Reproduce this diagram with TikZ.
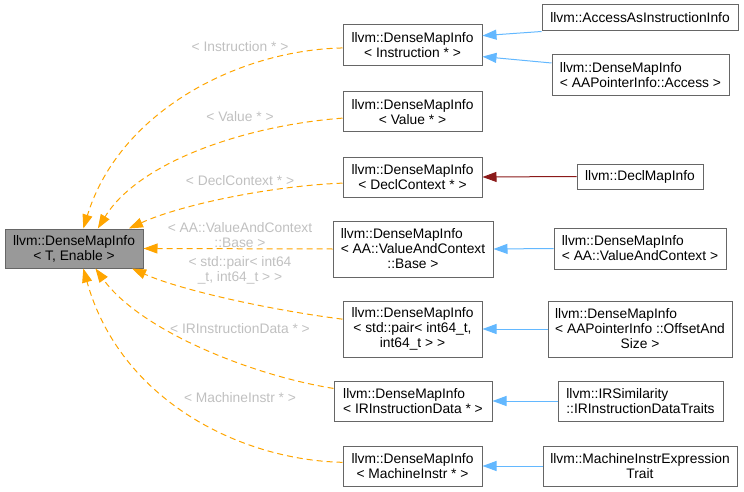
\documentclass[tikz,border=0pt]{standalone}
\usepackage{fontspec}
\setmainfont{Liberation Sans}
\usepackage{calc}
\usetikzlibrary{arrows.meta}
\definecolor{dxOrange}{HTML}{FFA500}
\definecolor{dxBlue}{HTML}{63B8FF}
\definecolor{dxRed}{HTML}{8B1A1A}
\definecolor{dxEdge}{HTML}{666666}
\definecolor{dxRoot}{HTML}{999999}
\definecolor{dxLabel}{HTML}{C0C0C0}
\newcommand{\lline}[2]{\makebox[\widthof{#2}][l]{#1}}
\tikzset{
  >={Triangle[length=14pt,width=10pt]},
  box/.style={draw=dxEdge, fill=white, line width=1pt, align=center,
              inner sep=2pt, font=\fontsize{13.8}{15}\selectfont},
  rootbox/.style={box, fill=dxRoot},
  lbl/.style={font=\fontsize{13.8}{15}\selectfont, text=dxLabel,
              align=center, inner sep=0pt},
  tmpl/.style={->, draw=dxOrange, line width=1pt, dash pattern=on 6pt off 4pt},
  pub/.style={->, draw=dxBlue, line width=1pt},
  priv/.style={->, draw=dxRed, line width=1pt},
}

\begin{document}
\begin{tikzpicture}[x=1pt,y=-1pt]
  \useasboundingbox (0,0) rectangle (744,492);
  % base template
  \node[rootbox,minimum width=138pt,minimum height=39pt] (root) at (74,248.5){llvm::DenseMapInfo\\< T, Enable >};

  % specialisations
  \node[box,minimum width=139pt,minimum height=41pt] (inst) at (412.5,45.5){llvm::DenseMapInfo\\< Instruction * >};
  \node[box,minimum width=139pt,minimum height=40pt] (val) at (412.5,112){llvm::DenseMapInfo\\< Value * >};
  \node[box,minimum width=139pt,minimum height=40pt] (decl) at (412.5,177){llvm::DenseMapInfo\\< DeclContext * >};
  \node[box,minimum width=160pt,minimum height=56pt] (base) at (413,249){\lline{llvm::DenseMapInfo}{< AA::ValueAndContext}\\< AA::ValueAndContext\\::Base >};
  \node[box,minimum width=139pt,minimum height=56pt] (pair) at (412.5,329){llvm::DenseMapInfo\\< std::pair< int64\_t,\\int64\_t > >};
  \node[box,minimum width=158pt,minimum height=40pt] (irid) at (413,401){\lline{llvm::DenseMapInfo}{< IRInstructionData * >}\\< IRInstructionData * >};
  \node[box,minimum width=139pt,minimum height=40pt] (mi) at (412.5,466){llvm::DenseMapInfo\\< MachineInstr * >};

  % derived classes
  \node[box,minimum width=196pt,minimum height=26pt] (aai) at (640,18){llvm::AccessAsInstructionInfo};
  \node[box,minimum width=177pt,minimum height=41pt] (acc) at (640.5,75.5){\lline{llvm::DenseMapInfo}{< AAPointerInfo::Access >}\\< AAPointerInfo::Access >};
  \node[box,minimum width=126pt,minimum height=25pt] (dmi) at (640,176.5){llvm::DeclMapInfo};
  \node[box,minimum width=172pt,minimum height=41pt] (vac) at (640,248.5){\lline{llvm::DenseMapInfo}{< AA::ValueAndContext >}\\< AA::ValueAndContext >};
  \node[box,minimum width=184pt,minimum height=56pt] (oas) at (640,329){\lline{llvm::DenseMapInfo}{< AAPointerInfo ::OffsetAnd}\\< AAPointerInfo ::OffsetAnd\\Size >};
  \node[box,minimum width=165pt,minimum height=40pt] (irs) at (640.5,401){\lline{llvm::IRSimilarity}{::IRInstructionDataTraits}\\::IRInstructionDataTraits};
  \node[box,minimum width=194pt,minimum height=40pt] (mie) at (640,466){llvm::MachineInstrExpression\\Trait};

  % template arguments
  \node[lbl] (linst) at (240,47){< Instruction * >};
  \node[lbl] (lval) at (240,117){< Value * >};
  \node[lbl] (ldecl) at (240,181){< DeclContext * >};
  \node[lbl] (lbase) at (240,235){< AA::ValueAndContext\\::Base >};
  \node[lbl] (lpair) at (240,270){< std::pair< int64\\\_t, int64\_t > >};
  \node[lbl] (lirid) at (240,329){< IRInstructionData * >};
  \node[lbl] (lmi) at (240,398){< MachineInstr * >};

  % instantiations
  \draw[tmpl] (inst.182) .. controls (240,50) and (120,110) .. (root.65);
  \draw[tmpl] (val.185) .. controls (250,125) and (140,160) .. (root.40);
  \draw[tmpl] (decl.185) .. controls (270,186) and (180,205) .. (root.20);
  \draw[tmpl] (base.west) -- (root.east);
  \draw[tmpl] (pair.172) .. controls (270,310) and (180,290) .. (root.-19);
  \draw[tmpl] (irid.171) .. controls (250,375) and (140,330) .. (root.-43);
  \draw[tmpl] (mi.177) .. controls (240,460) and (120,400) .. (root.-65);

  % inheritance
  \draw[pub] (aai.south west) -- (inst.8);
  \draw[pub] (acc.172) -- (inst.-9);
  \draw[priv] (dmi.west) -- (decl.east);
  \draw[pub] (vac.west) -- (base.east);
  \draw[pub] (oas.west) -- (pair.east);
  \draw[pub] (irs.west) -- (irid.east);
  \draw[pub] (mie.west) -- (mi.east);
\end{tikzpicture}
\end{document}
